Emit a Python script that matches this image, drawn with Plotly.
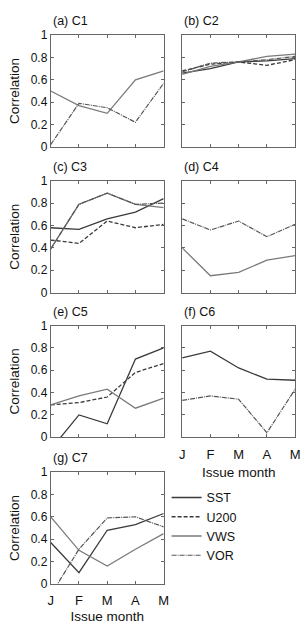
import plotly.graph_objects as go

months = ["J", "F", "M", "A", "M"]
panel_titles = ["(a) C1", "(b) C2", "(c) C3", "(d) C4", "(e) C5", "(f) C6", "(g) C7"]
series_names = ["SST", "U200", "VWS", "VOR"]

# correlation values per cluster (None = not shown)
sst = {
    "C2": [0.66, 0.70, 0.76, 0.77, 0.79],
    "C3": [0.58, 0.565, 0.66, 0.72, 0.84],
    "C5": [-0.11, 0.20, 0.12, 0.70, 0.80],
    "C6": [0.71, 0.77, 0.62, 0.52, 0.51],
    "C7": [0.37, 0.10, 0.48, 0.53, 0.63],
}
u200 = {
    "C2": [0.68, 0.74, 0.76, 0.73, 0.78],
    "C3": [0.47, 0.44, 0.64, 0.58, 0.61],
    "C5": [0.29, 0.31, 0.36, 0.58, 0.66],
}
vws = {
    "C1": [0.50, 0.37, 0.30, 0.60, 0.68],
    "C2": [0.65, 0.72, 0.76, 0.81, 0.83],
    "C3": [0.39, 0.79, 0.89, 0.79, 0.76],
    "C4": [0.40, 0.15, 0.18, 0.29, 0.33],
    "C5": [0.29, 0.37, 0.43, 0.26, 0.35],
    "C7": [0.60, 0.30, 0.16, 0.31, 0.45],
}
vor = {
    "C1": [0.02, 0.39, 0.35, 0.22, 0.57],
    "C2": [0.67, 0.75, 0.76, 0.78, 0.81],
    "C3": [0.39, 0.79, 0.89, 0.79, 0.80],
    "C4": [0.66, 0.56, 0.64, 0.50, 0.61],
    "C6": [0.33, 0.37, 0.34, 0.04, 0.43],
    "C7": [-0.10, 0.31, 0.59, 0.60, 0.51],
}
yticks = [0, 0.2, 0.4, 0.6, 0.8, 1]
yticktext = ["0", "0.2", "0.4", "0.6", "0.8", "1"]

styles = {
    "SST": dict(color="#3a3a3a", width=1.3, dash="solid"),
    "U200": dict(color="#3a3a3a", width=1.3, dash="4px,2px"),
    "VWS": dict(color="#7a7a7a", width=1.3, dash="solid"),
    "VOR": dict(color="#555555", width=1.2, dash="5px,1px,1px,1px"),
}
data_by_series = {"SST": sst, "U200": u200, "VWS": vws, "VOR": vor}

W, H = 305, 624
col_x = [(49, 165), (184, 300)]
row_y = [(29, 144), (179, 294), (328, 443), (479, 594)]

FONT = "Liberation Sans, Arial, Helvetica, sans-serif"
fig = go.Figure()
layout = dict(
    width=W, height=H, margin=dict(l=0, r=0, t=0, b=0),
    paper_bgcolor="white", plot_bgcolor="white",
    font=dict(family=FONT, size=12, color="#111"),
    showlegend=True,
    legend=dict(x=168 / W, y=1 - 490 / H, xanchor="left", yanchor="top",
                itemwidth=30, font=dict(size=12.5, color="#111"),
                bgcolor="rgba(0,0,0,0)", tracegroupgap=0),
)
annotations = []
for i, title in enumerate(panel_titles):
    r, c = divmod(i, 2)
    cl = f"C{i + 1}"
    ax = "" if i == 0 else str(i + 1)
    x0, x1 = col_x[c]
    y0, y1 = row_y[r]
    show_xlab = cl in ("C6", "C7")
    layout[f"xaxis{ax}"] = dict(
        domain=[x0 / W, x1 / W], anchor=f"y{ax}", range=[0, 4],
        tickvals=list(range(5)), ticktext=months, showticklabels=show_xlab,
        ticks="inside", ticklen=3, tickcolor="#666", mirror="ticks",
        showline=True, linecolor="#666", linewidth=1, showgrid=False, zeroline=False,
        tickfont=dict(size=13), ticklabelstandoff=5,
        title=dict(text="Issue month" if show_xlab else "", font=dict(size=13.5), standoff=6),
    )
    layout[f"yaxis{ax}"] = dict(
        domain=[1 - y1 / H, 1 - y0 / H], anchor=f"x{ax}", range=[0, 1],
        tickvals=yticks, ticktext=yticktext, showticklabels=(c == 0),
        ticks="inside", ticklen=3, tickcolor="#666", mirror="ticks",
        showline=True, linecolor="#666", linewidth=1, showgrid=False, zeroline=False,
        tickfont=dict(size=12),
        title=dict(text="Correlation" if c == 0 else "", font=dict(size=13.5), standoff=7),
    )
    annotations.append(dict(text=title, x=x0 / W, y=1 - (y0 - 5) / H, xref="paper", yref="paper",
                            xanchor="left", yanchor="bottom", showarrow=False,
                            font=dict(size=12.5, color="#111")))
    for name in series_names:
        vals = data_by_series[name].get(cl)
        if vals is None:
            continue
        fig.add_trace(go.Scatter(
            x=list(range(5)), y=vals, mode="lines", name=name,
            line=styles[name], xaxis=f"x{ax}", yaxis=f"y{ax}",
            legendgroup=name, showlegend=(cl == "C3"),
        ))
layout["annotations"] = annotations
fig.update_layout(**layout)
fig.write_html("out.html")
